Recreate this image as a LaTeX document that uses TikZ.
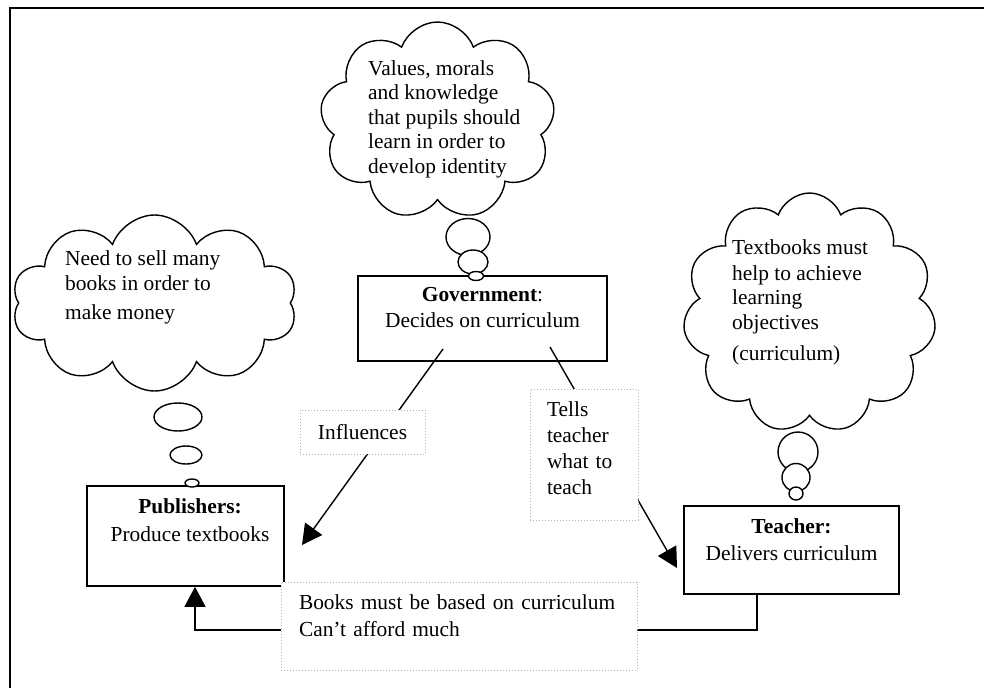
\documentclass[tikz,border=0pt]{standalone}
\usepackage{fontspec}
\setmainfont{Liberation Serif}
\usetikzlibrary{shapes.symbols,shapes.geometric,arrows.meta,positioning}

\begin{document}
\begin{tikzpicture}[x=1pt, y=-1pt,
    every node/.style={font=\fontsize{21.4pt}{25pt}\selectfont},
    box/.style={draw, line width=1.6pt, align=center, inner sep=0pt},
    thought/.style={draw, cloud, cloud puffs=10, cloud puff arc=140, cloud ignores aspect, line width=1.4pt, inner sep=0pt},
    bubble/.style={draw, ellipse, line width=1.4pt, fill=white, inner sep=0pt},
    words/.style={align=left, inner sep=0pt, anchor=north west},
    tag/.style={draw=gray!60, dotted, line width=1pt, fill=white, align=left, inner sep=0pt},
    conn/.style={line width=1.4pt, -{Triangle[length=20pt,width=21pt]}}]
    \useasboundingbox (0,0) rectangle (984,688);
    % frame
    \draw[line width=2pt] (10,688) -- (10,8) -- (984,8);

    % thoughts
    \node[thought, cloud puffs=9, minimum width=235pt, minimum height=198pt] (gov-cloud) at (437.5,121) {};
    \node[words, font=\fontsize{21.4pt}{24.5pt}\selectfont] (gov-thought) at (368,60) {Values, morals\\and knowledge\\that pupils should\\learn in order to\\develop identity};
    \node[thought, minimum width=285pt, minimum height=176pt] (pub-cloud) at (154.5,303) {};
    \node[words] (pub-thought) at (65,250.5) {Need to sell many\\books in order to\\[4pt]make money};
    \node[thought, cloud puffs=11, minimum width=253pt, minimum height=240pt] (teach-cloud) at (809.5,313) {};
    \node[words, font=\fontsize{21.4pt}{24.5pt}\selectfont] (teach-thought) at (732,239.4) {Textbooks must\\[1.5pt]help to achieve\\learning\\objectives\\[6.5pt](curriculum)};

    % boxes
    \node[box, minimum width=249pt, minimum height=85pt] (gov) at (482.5,318.5) {\textbf{Government}:\\[1pt]Decides on curriculum\rule[-21.6pt]{0pt}{21.6pt}};
    \node[box, minimum width=197pt, minimum height=100pt] (pub) at (185.5,536) {\hspace*{9pt}\textbf{Publishers:}\\[3pt]\hspace*{9pt}Produce textbooks\rule[-32.6pt]{0pt}{32.6pt}};
    \node[box, minimum width=215pt, minimum height=88pt] (teach) at (791.5,550) {\textbf{Teacher:}\\[2pt]Delivers curriculum\rule[-21.6pt]{0pt}{21.6pt}};

    % bubbles
    \node[bubble, minimum width=44pt, minimum height=37pt] (gov-b1) at (468,237) {};
    \node[bubble, minimum width=30pt, minimum height=24pt] (gov-b2) at (473,262) {};
    \node[bubble, minimum width=15pt, minimum height=9pt] (gov-b3) at (476,276) {};
    \node[bubble, minimum width=48pt, minimum height=28pt] (pub-b1) at (178,417) {};
    \node[bubble, minimum width=32pt, minimum height=18pt] (pub-b2) at (186,455) {};
    \node[bubble, minimum width=14pt, minimum height=8pt] (pub-b3) at (192,483) {};
    \node[bubble, minimum width=40pt, minimum height=40pt] (teach-b1) at (798,452) {};
    \node[bubble, minimum width=28pt, minimum height=28pt] (teach-b2) at (796,477.5) {};
    \node[bubble, minimum width=14pt, minimum height=13pt] (teach-b3) at (796,493.5) {};

    % connectors
    \coordinate (infl-from) at (443,349);
    \coordinate (infl-to) at (302,545);
    \coordinate (tells-from) at (550,347);
    \coordinate (tells-to) at (677,568);
    \draw[conn] (infl-from) -- (infl-to);
    \draw[conn] (tells-from) -- (tells-to);
    \draw[conn] ([xshift=-34.5pt]teach.south) -- ++(0,35) -| ([xshift=9.5pt]pub.south);

    % labels
    \node[tag, minimum width=125pt, minimum height=44pt] (infl) at (362.5,432) {Influences};
    \node[tag, text width=74pt, inner xsep=17pt, minimum height=131pt, font=\fontsize{21.4pt}{26pt}\selectfont] (tells) at (584,454.5) {Tells\\teacher\\what to\\teach\rule[-13.6pt]{0pt}{13.6pt}};
    \node[tag, text width=320pt, inner xsep=18pt, minimum height=88pt] (books) at (459,626) {Books must be based on curriculum\\[2pt]Can’t afford much\rule[-20pt]{0pt}{20pt}};
\end{tikzpicture}
\end{document}
